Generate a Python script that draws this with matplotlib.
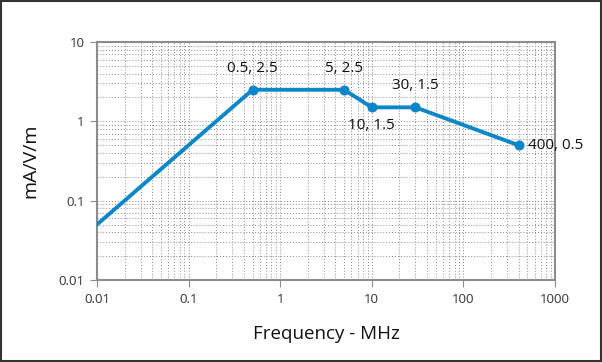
import numpy as np
import matplotlib.pyplot as plt
from matplotlib.ticker import LogLocator, FixedLocator, NullFormatter

plt.rcParams['font.family'] = ['Open Sans', 'DejaVu Sans']

freq = [0.01, 0.5, 5, 10, 30, 400]
level = [0.05, 2.5, 2.5, 1.5, 1.5, 0.5]
labels = ['', '0.5, 2.5', '5, 2.5', '10, 1.5', '30, 1.5', '400, 0.5']
# where each label sits relative to its point
places = ['', 'above', 'above', 'below', 'above', 'right']

xticks = [0.01, 0.1, 1, 10, 100, 1000]
xticklabels = ['0.01', '0.1', '1', '10', '100', '1000']
yticks = [0.01, 0.1, 1, 10]
yticklabels = ['0.01', '0.1', '1', '10']

fig = plt.figure(figsize=(6.02, 3.62), dpi=100)
ax = fig.add_axes([0.1611, 0.2265, 0.7608, 0.6575])

blue = '#0b87c9'
ax.plot(freq, level, color=blue, linewidth=2.8, zorder=3)
ax.plot(freq[1:], level[1:], 'o', color=blue, markersize=6.2, zorder=4)

ax.set_xscale('log')
ax.set_yscale('log')
ax.set_xlim(0.01, 1000)
ax.set_ylim(0.01, 10)

ax.xaxis.set_major_locator(FixedLocator(xticks))
ax.set_xticklabels(xticklabels)
ax.yaxis.set_major_locator(FixedLocator(yticks))
ax.set_yticklabels(yticklabels)
ax.xaxis.set_minor_locator(LogLocator(base=10, subs=np.arange(2, 10)))
ax.yaxis.set_minor_locator(LogLocator(base=10, subs=np.arange(2, 10)))
ax.xaxis.set_minor_formatter(NullFormatter())
ax.yaxis.set_minor_formatter(NullFormatter())

ax.grid(True, which='both', linestyle=(0, (1, 2)), color='#8a8a8a', linewidth=0.7)
ax.tick_params(which='major', length=5, color='#8c8c8c', labelsize=9.5, labelcolor='#333333', pad=4)
ax.tick_params(which='minor', length=0)
for s in ax.spines.values():
    s.set_color('#8c8c8c')
    s.set_linewidth(1.5)

offsets = {'above': (0, 10, 'center', 'bottom'),
           'below': (0, -8, 'center', 'top'),
           'right': (7, 0, 'left', 'center')}
for x, y, t, p in zip(freq, level, labels, places):
    if not t:
        continue
    dx, dy, ha, va = offsets[p]
    ax.annotate(t, (x, y), xytext=(dx, dy), textcoords='offset points',
                ha=ha, va=va, fontsize=11, color='#111111', zorder=5)

ax.set_xlabel('Frequency - MHz', fontsize=13.5, labelpad=14, color='#111111')
ax.set_ylabel('mA/V/m', fontsize=14, labelpad=14, color='#111111')

fig.patches.append(plt.Rectangle((0.001, 0.002), 0.997, 0.995, transform=fig.transFigure,
                                 fill=False, edgecolor='#333333', linewidth=1.5))

fig.savefig('out.png', dpi=100)
